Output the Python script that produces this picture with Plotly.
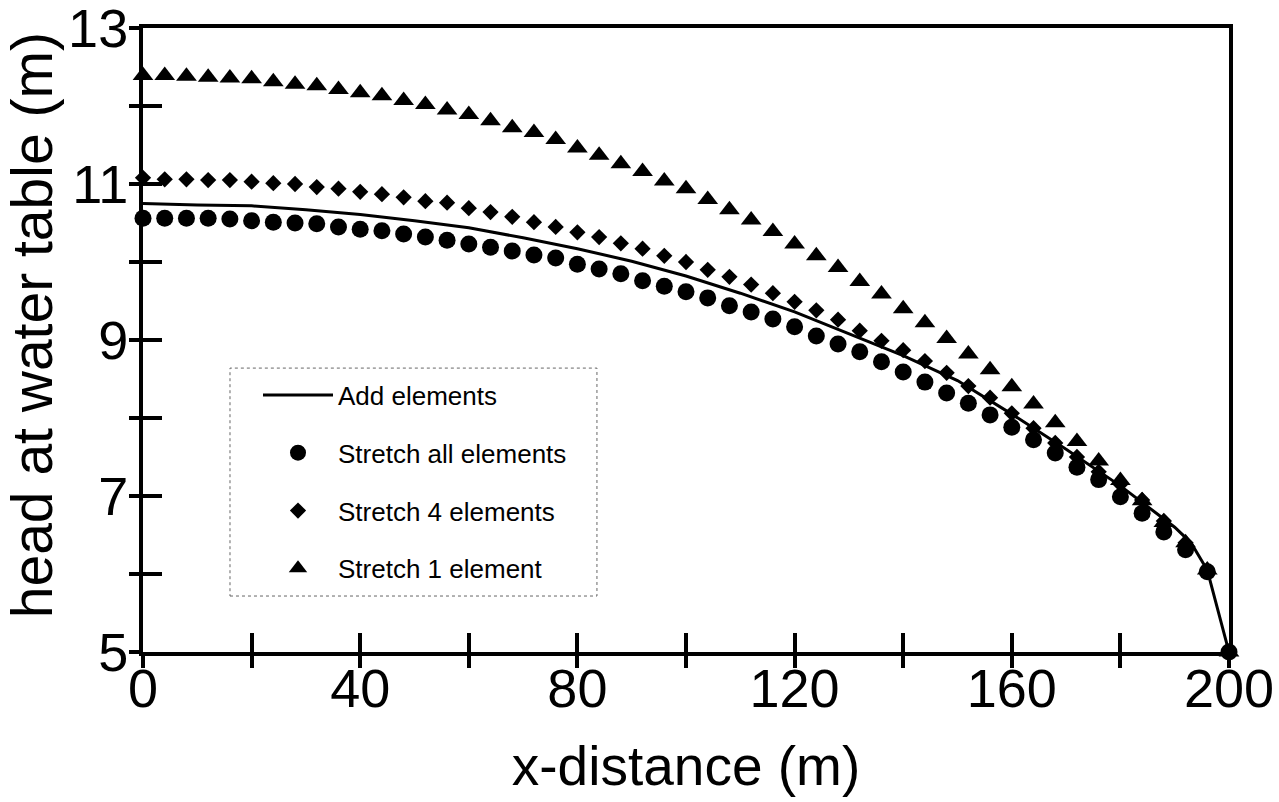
import plotly.graph_objects as go

# x positions of the symbol series (every 4 m)
x_pts = [0, 4, 8, 12, 16, 20, 24, 28, 32, 36, 40, 44, 48, 52, 56, 60, 64, 68, 72, 76,
         80, 84, 88, 92, 96, 100, 104, 108, 112, 116, 120, 124, 128, 132, 136, 140,
         144, 148, 152, 156, 160, 164, 168, 172, 176, 180, 184, 188, 192, 196, 200]

stretch_all = [10.56, 10.56, 10.56, 10.56, 10.55, 10.53, 10.51, 10.50, 10.49, 10.45,
               10.42, 10.40, 10.36, 10.32, 10.28, 10.23, 10.19, 10.14, 10.09, 10.05,
               9.97, 9.91, 9.85, 9.76, 9.69, 9.62, 9.54, 9.44, 9.36, 9.27,
               9.17, 9.05, 8.95, 8.85, 8.72, 8.59, 8.46, 8.32, 8.19, 8.04,
               7.88, 7.72, 7.55, 7.37, 7.21, 6.99, 6.78, 6.54, 6.31, 6.03, 5.0]

stretch_4 = [11.08, 11.06, 11.06, 11.05, 11.05, 11.03, 11.01, 11.00, 10.96, 10.94,
             10.90, 10.87, 10.83, 10.78, 10.76, 10.69, 10.64, 10.58, 10.51, 10.45,
             10.38, 10.32, 10.24, 10.17, 10.08, 10.00, 9.90, 9.81, 9.71, 9.60,
             9.49, 9.38, 9.26, 9.12, 8.99, 8.87, 8.73, 8.58, 8.41, 8.26,
             8.06, 7.87, 7.68, 7.50, 7.31, 7.15, 6.95, 6.68, 6.40, 6.05, 5.0]

stretch_1 = [12.39, 12.39, 12.38, 12.37, 12.36, 12.35, 12.31, 12.28, 12.26, 12.21,
             12.17, 12.13, 12.07, 12.02, 11.95, 11.89, 11.81, 11.72, 11.66, 11.57,
             11.46, 11.37, 11.26, 11.16, 11.04, 10.94, 10.80, 10.67, 10.54, 10.39,
             10.23, 10.08, 9.93, 9.75, 9.59, 9.40, 9.22, 9.02, 8.82, 8.62,
             8.40, 8.18, 7.94, 7.70, 7.45, 7.20, 6.94, 6.66, 6.40, 6.05, 5.0]

# "Add elements" solution line
x_line = [0, 10, 20, 30, 40, 50, 60, 70, 80, 90, 100, 110, 120, 130, 140, 150,
          160, 170, 180, 190, 193, 196, 200]
add_elements = [10.75, 10.73, 10.72, 10.67, 10.61, 10.53, 10.44, 10.31, 10.17, 10.01,
                9.82, 9.60, 9.36, 9.08, 8.80, 8.48, 8.05, 7.60, 7.13, 6.60, 6.40, 6.05, 5.0]

x_ticks = [0, 40, 80, 120, 160, 200]
y_ticks = [5, 7, 9, 11, 13]

X_TITLE = "x-distance (m)"
Y_TITLE = "head at water table (m)"

FONT = "Liberation Sans, Arial, sans-serif"

fig = go.Figure()
fig.add_trace(go.Scatter(x=x_line, y=add_elements, mode="lines", name="Add elements",
                         line=dict(color="black", width=3), legendgroup="a",
                         cliponaxis=False))
fig.add_trace(go.Scatter(x=x_pts, y=stretch_all, mode="markers", name="Stretch all elements",
                         marker=dict(symbol="circle", size=17, color="black"),
                         legendgroup="b", cliponaxis=False))
fig.add_trace(go.Scatter(x=x_pts, y=stretch_4, mode="markers", name="Stretch 4 elements",
                         marker=dict(symbol="diamond", size=12.5, color="black"),
                         legendgroup="c", cliponaxis=False))
fig.add_trace(go.Scatter(x=x_pts, y=stretch_1, mode="markers", name="Stretch 1 element",
                         marker=dict(symbol="triangle-up", size=18, color="black"),
                         legendgroup="d", cliponaxis=False))
# empty trace to host the overlay axes that carry the outward half of the ticks
fig.add_trace(go.Scatter(x=[], y=[], xaxis="x2", yaxis="y2", showlegend=False,
                         hoverinfo="skip"))

fig.update_layout(
    width=1279, height=802,
    margin=dict(l=143, r=50, t=28, b=150),
    paper_bgcolor="white", plot_bgcolor="white",
    font=dict(family=FONT, color="black"),
    showlegend=True,
    legend=dict(x=0.1059, y=0.4495, xanchor="left", yanchor="top",
                bgcolor="rgba(0,0,0,0)", borderwidth=0,
                font=dict(size=26, family=FONT), tracegroupgap=21,
                itemwidth=70, traceorder="grouped"),
    shapes=[dict(type="rect", xref="paper", yref="paper",
                 x0=0.0801, x1=0.418, y0=0.0897, y1=0.455,
                 line=dict(color="#666666", width=1, dash="dot"),
                 fillcolor="rgba(0,0,0,0)", layer="below")],
    annotations=[dict(text=Y_TITLE, xref="paper", yref="paper", x=-0.102, y=0.524,
                      xanchor="center", yanchor="middle", textangle=-90,
                      showarrow=False, font=dict(size=57, family=FONT))],
    xaxis=dict(range=[0, 200], tickvals=x_ticks, ticks="inside", ticklen=19,
               tickwidth=4, tickcolor="black",
               minor=dict(dtick=20, tick0=0, ticks="inside", ticklen=19,
                          tickwidth=4, tickcolor="black"),
               showline=True, linewidth=4, linecolor="black", mirror=True,
               showgrid=False, zeroline=False, automargin=False,
               ticklabeloverflow="allow", ticklabelstandoff=-14,
               tickfont=dict(size=54, family=FONT),
               title=dict(text=X_TITLE, font=dict(size=55, family=FONT),
                          standoff=31)),
    yaxis=dict(range=[5, 13], tickvals=y_ticks, ticks="inside", ticklen=19,
               tickwidth=4, tickcolor="black",
               minor=dict(dtick=1, tick0=5, ticks="inside", ticklen=19,
                          tickwidth=4, tickcolor="black"),
               showline=True, linewidth=4, linecolor="black", mirror=True,
               showgrid=False, zeroline=False, automargin=False,
               ticklabeloverflow="allow",
               tickfont=dict(size=54, family=FONT)),
    xaxis2=dict(overlaying="x", anchor="y2", side="bottom", range=[0, 200],
                tick0=0, dtick=20, ticks="outside", ticklen=15, tickwidth=4,
                tickcolor="black", showticklabels=False, showline=False,
                showgrid=False, zeroline=False),
    yaxis2=dict(overlaying="y", anchor="x2", side="left", range=[5, 13],
                tick0=5, dtick=1, ticks="outside", ticklen=13, tickwidth=4,
                tickcolor="black", showticklabels=False, showline=False,
                showgrid=False, zeroline=False),
)

fig.write_html("out.html",
               config={"displayModeBar": False},
               post_script="document.body.style.margin='0px';"
                           "document.body.style.overflow='hidden';")
